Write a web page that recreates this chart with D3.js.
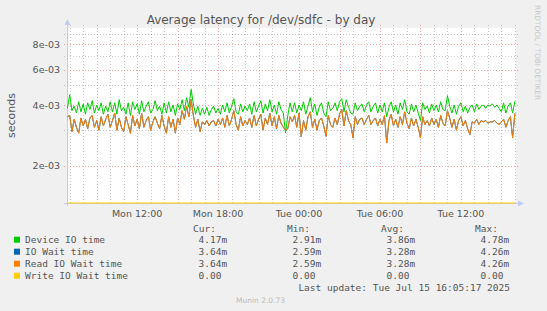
<!DOCTYPE html>
<html>
<head>
<meta charset="utf-8">
<script src="https://cdn.jsdelivr.net/npm/d3@7"></script>
<style>
body{margin:0;background:#f0f0f0;}
svg text{font-family:"DejaVu Sans",sans-serif;fill:#555;}
svg text.mono{font-family:"DejaVu Sans Mono",monospace;}
</style>
</head>
<body>
<div class="canva"></div>
<script>
// samples every 10 minutes, values in milliseconds
const sampleStart = Date.UTC(2025, 6, 14, 6, 50);
const sampleStep = 10 * 60 * 1000;

const deviceIO = [
  3.85,4.5,3.75,3.95,3.65,4.15,3.7,4.05,3.6,4.1,3.8,4.2,3.65,4.0,3.75,4.1,3.6,3.95,3.7,4.15,
  3.7,4.1,3.6,4.25,3.75,3.9,3.6,4.1,3.55,4.15,3.8,4.05,3.6,4.2,3.7,3.95,4.15,3.65,3.8,4.2,
  3.75,3.95,3.6,4.1,3.65,4.15,3.7,4.0,3.55,4.05,3.8,4.25,3.75,4.35,3.9,4.78,4.05,3.6,3.95,3.55,
  3.85,3.6,3.9,3.55,3.8,3.95,3.65,3.85,3.6,4.0,3.7,4.1,3.65,3.95,4.3,3.7,3.6,4.05,3.7,3.95,
  3.75,4.05,3.6,4.15,3.7,3.95,4.2,3.65,4.05,3.75,4.25,3.7,4.0,3.6,4.15,3.8,3.65,2.91,3.55,4.1,
  3.7,4.1,3.65,4.0,3.75,4.15,3.6,3.95,4.35,3.7,4.05,3.55,3.9,4.1,3.65,3.5,4.15,3.75,3.85,4.1,
  3.75,4.15,4.3,3.7,4.25,3.9,3.65,3.6,4.1,3.75,3.95,4.05,3.7,4.0,4.15,3.7,3.95,4.1,3.65,4.0,
  3.7,4.1,3.5,3.9,4.15,3.7,4.0,3.6,4.1,3.8,4.25,3.7,3.6,4.05,3.7,4.0,3.65,3.35,4.1,3.8,
  3.95,3.65,4.05,3.75,4.0,3.7,4.15,3.8,3.75,4.45,3.95,3.65,4.0,3.6,3.95,4.1,3.7,3.95,3.65,3.9,
  4.0,3.7,4.05,3.8,3.95,4.0,3.85,4.0,3.95,4.05,3.9,4.0,3.85,3.7,4.1,3.65,3.95,4.1,3.65,4.17
];

const readWait = [
  3.5,3.55,2.95,3.4,3.1,2.9,3.45,3.15,3.4,3.05,3.45,3.55,3.1,3.35,3.0,3.5,3.15,3.4,3.6,3.1,
  3.35,3.65,3.0,3.45,3.1,2.95,3.5,3.2,2.9,3.55,3.15,3.4,3.05,3.65,3.1,3.35,3.5,3.0,3.3,3.5,
  3.25,3.05,3.55,3.15,2.9,3.5,3.1,3.4,2.9,3.45,3.2,3.75,3.4,3.95,3.5,4.26,3.55,3.1,3.4,2.95,
  3.3,3.2,3.35,3.15,3.3,3.35,3.15,3.4,3.2,3.45,3.1,3.55,3.15,3.4,3.75,3.2,3.0,3.5,3.15,3.35,
  3.2,3.45,3.1,3.55,3.15,3.4,3.6,3.0,3.45,3.2,3.65,3.15,3.5,3.05,3.55,3.25,3.1,3.0,3.05,3.5,
  3.3,3.55,3.1,3.65,2.78,3.35,3.0,3.5,3.7,3.1,3.4,3.0,3.35,3.45,3.15,2.8,3.55,3.2,3.1,3.45,
  3.2,3.6,3.8,3.15,3.75,3.35,3.2,2.75,3.5,3.2,3.4,3.45,3.2,3.4,3.55,3.2,3.35,3.45,3.15,3.4,
  3.2,3.55,2.59,3.35,3.6,3.15,3.4,3.1,3.5,3.2,3.7,3.25,3.05,3.45,3.15,3.4,3.1,2.75,3.5,3.2,
  3.35,3.15,3.45,3.2,3.4,3.1,3.55,3.25,3.15,3.75,3.45,3.1,3.4,3.0,3.35,3.5,3.15,3.35,3.05,2.85,
  3.3,3.25,3.4,3.2,3.35,3.3,3.35,3.25,3.3,3.3,3.35,3.25,3.2,3.3,3.4,3.1,3.35,3.5,2.75,3.64
];

// IO wait equals read wait in the source graph (same legend numbers)
const ioWait = readWait.slice();
// write wait is flat zero
const writeWait = [0, 0];

const seriesNames = ["Device IO time", "IO Wait time", "Read IO Wait time", "Write IO Wait time"];
const seriesColors = ["#00cc00", "#0066b3", "#ff8000", "#ffcc00"];
const curText = ["4.17m", "3.64m", "3.64m", "0.00"];
const minText = ["2.91m", "2.59m", "2.59m", "0.00"];
const avgText = ["3.86m", "3.28m", "3.28m", "0.00"];
const maxText = ["4.78m", "4.26m", "4.26m", "0.00"];

const yMajor = [2e-3, 4e-3, 6e-3, 8e-3];
const yMajorLabels = ["2e-03", "4e-03", "6e-03", "8e-03"];
const yMinor = [3e-3, 5e-3, 7e-3, 9e-3];

const viewStart = new Date(Date.UTC(2025, 6, 14, 6, 48));
const viewEnd = new Date(Date.UTC(2025, 6, 15, 16, 5));

const plotLeft = 67, plotRight = 516, plotTop = 28, plotBottom = 203;

const svg = d3.select(".canva").append("svg")
  .attr("width", 547)
  .attr("height", 311)
  .style("display", "block");

svg.append("rect").attr("width", 547).attr("height", 311).attr("fill", "#f0f0f0");

const x = d3.scaleUtc().domain([viewStart, viewEnd]).range([plotLeft, plotRight]);
const y = d3.scaleLog().domain([1.306e-3, 9.64e-3]).range([plotBottom, plotTop]).clamp(true);

svg.append("rect")
  .attr("x", plotLeft).attr("y", plotTop)
  .attr("width", plotRight - plotLeft).attr("height", plotBottom - plotTop)
  .attr("fill", "#fff");

// grid
const hours = d3.utcHour.range(d3.utcHour.ceil(viewStart), viewEnd);
svg.append("g").selectAll("line")
  .data(hours)
  .enter().append("line")
  .attr("x1", d => Math.round(x(d)) + 0.5)
  .attr("x2", d => Math.round(x(d)) + 0.5)
  .attr("y1", plotTop - 3)
  .attr("y2", plotBottom + 2)
  .attr("stroke", d => d.getUTCHours() % 3 == 0 ? "rgba(230,110,110,0.6)" : "rgba(150,150,150,0.5)")
  .attr("stroke-dasharray", "1,2");

svg.append("g").selectAll("line")
  .data(yMinor.concat(yMajor))
  .enter().append("line")
  .attr("x1", plotLeft - 3)
  .attr("x2", plotRight + 3)
  .attr("y1", d => Math.round(y(d)) + 0.5)
  .attr("y2", d => Math.round(y(d)) + 0.5)
  .attr("stroke", d => yMajor.includes(d) ? "rgba(230,110,110,0.6)" : "rgba(150,150,150,0.5)")
  .attr("stroke-dasharray", "1,2");

// axes lines + arrows
const axisColor = "#c4cbf2";
svg.append("line").attr("x1", plotLeft + 0.5).attr("x2", plotLeft + 0.5).attr("y1", plotBottom + 3).attr("y2", plotTop - 5)
  .attr("stroke", axisColor);
svg.append("line").attr("x1", plotLeft - 3).attr("x2", plotRight + 3).attr("y1", plotBottom + 0.5).attr("y2", plotBottom + 0.5)
  .attr("stroke", axisColor);
svg.append("path").attr("d", `M${plotLeft - 2.5},${plotTop - 3}L${plotLeft + 3.5},${plotTop - 3}L${plotLeft + 0.5},${plotTop - 9}Z`)
  .attr("fill", axisColor);
svg.append("path").attr("d", `M${plotRight + 2},${plotBottom - 2.5}L${plotRight + 2},${plotBottom + 3.5}L${plotRight + 8},${plotBottom + 0.5}Z`)
  .attr("fill", axisColor);

// y labels
svg.append("g").selectAll("text")
  .data(yMajor)
  .enter().append("text")
  .attr("x", 60)
  .attr("y", d => y(d) + 3.5)
  .attr("text-anchor", "end")
  .attr("font-size", "9.5px")
  .text((d, i) => yMajorLabels[i]);

// x labels
const fmt = d3.utcFormat("%a %H:%M");
svg.append("g").selectAll("text")
  .data(d3.utcHour.every(6).range(viewStart, viewEnd))
  .enter().append("text")
  .attr("x", d => x(d))
  .attr("y", 216.5)
  .attr("text-anchor", "middle")
  .attr("font-size", "9.5px")
  .text(d => fmt(d));

// series
const toPoints = arr => arr.map((v, i) => ({t: new Date(sampleStart + i * sampleStep), v: v * 1e-3}));
const line = d3.line().x(d => x(d.t)).y(d => y(d.v));

const writePoints = [{t: viewStart, v: writeWait[0]}, {t: viewEnd, v: writeWait[1]}];
const lines = [
  {data: toPoints(deviceIO), color: seriesColors[0]},
  {data: toPoints(ioWait), color: seriesColors[1]},
  {data: toPoints(readWait), color: seriesColors[2]},
  {data: writePoints, color: seriesColors[3]}
];

svg.append("g").selectAll("path")
  .data(lines)
  .enter().append("path")
  .attr("d", d => line(d.data))
  .attr("fill", "none")
  .attr("stroke", d => d.color)
  .attr("stroke-width", 1);

// title and side texts
svg.append("text").attr("x", 261).attr("y", 24).attr("text-anchor", "middle")
  .attr("font-size", "12px").text("Average latency for /dev/sdfc - by day");

svg.append("text").attr("transform", "translate(15,115.5) rotate(-90)").attr("text-anchor", "middle")
  .attr("font-size", "11px").text("seconds");

svg.append("text").attr("transform", "translate(534.5,5) rotate(90)")
  .attr("font-size", "7.4px").style("fill", "#c8c8c8").text("RRDTOOL / TOBI OETIKER");

// legend
const headX = [193, 287, 381, 475];
const valX = [198.5, 292.5, 386.5, 480.5];
const cols = [curText, minText, avgText, maxText];
["Cur:", "Min:", "Avg:", "Max:"].forEach((h, j) => {
  svg.append("text").attr("class", "mono").attr("x", headX[j]).attr("y", 231.6)
    .attr("font-size", "9.5px").text(h);
});

seriesNames.forEach((name, i) => {
  const by = 243.2 + i * 12;
  svg.append("rect").attr("x", 14).attr("y", by - 6.5).attr("width", 6).attr("height", 6)
    .attr("fill", seriesColors[i]);
  svg.append("text").attr("class", "mono").attr("x", 25).attr("y", by)
    .attr("font-size", "9.5px").text(name);
  cols.forEach((c, j) => {
    svg.append("text").attr("class", "mono").attr("x", valX[j]).attr("y", by)
      .attr("font-size", "9.5px").text(c[i]);
  });
});

svg.append("text").attr("class", "mono").attr("x", 510).attr("y", 290.8).attr("text-anchor", "end")
  .attr("font-size", "9.5px").text("Last update: Tue Jul 15 16:05:17 2025");

svg.append("text").attr("x", 260.5).attr("y", 303).attr("text-anchor", "middle")
  .attr("font-size", "7.5px").style("fill", "#bbb").text("Munin 2.0.73");
</script>
</body>
</html>
